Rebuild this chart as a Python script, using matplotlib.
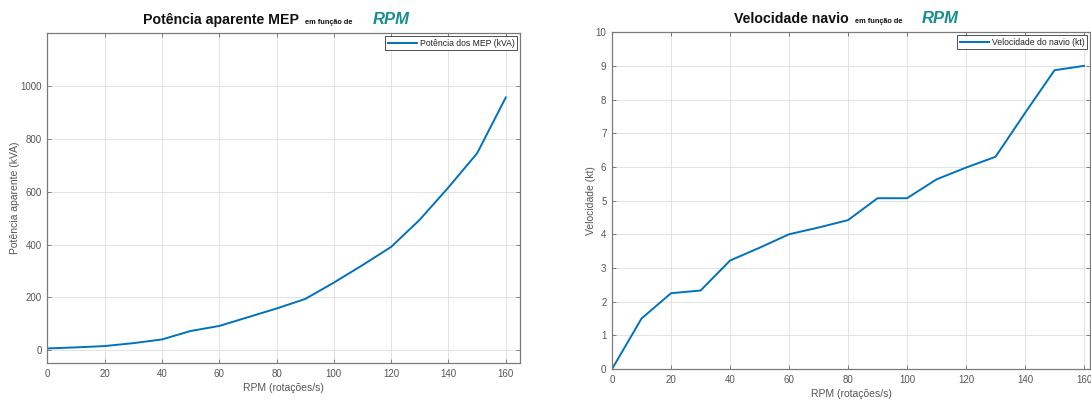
import matplotlib
matplotlib.use("Agg")
import matplotlib.pyplot as plt
from matplotlib.offsetbox import TextArea, HPacker, AnchoredOffsetbox

plt.rcParams["font.family"] = ["Liberation Sans", "DejaVu Sans"]

# ── Data ──
rpm = [0, 10, 20, 30, 40, 50, 60, 70, 80, 90, 100, 110, 120, 130, 140, 150, 160]
potencia_kva = [7, 11, 16, 27, 41, 73, 92, 125, 158, 194, 256, 322, 391, 494, 616, 745, 956]
velocidade_kt = [0, 1.5, 2.25, 2.33, 3.22, 3.6, 4.0, 4.2, 4.42, 5.07, 5.07, 5.63, 5.98, 6.3, 7.6, 8.87, 9.0]

pot_yticks = [0, 200, 400, 600, 800, 1000]
vel_yticks = list(range(0, 11))
x_ticks = list(range(0, 161, 20))

LINE_C = "#0072BD"
TICK_C = "#555555"
EDGE_C = "#7a7a7a"
GRID_C = "#e3e3e3"
TEAL = "#178f8f"


def style_axes(ax):
    for s in ax.spines.values():
        s.set_color(EDGE_C)
        s.set_linewidth(0.9)
    ax.tick_params(direction="in", length=3, width=0.7, colors=EDGE_C,
                   labelcolor=TICK_C, labelsize=7, top=True, right=True, pad=4)
    ax.grid(True, color=GRID_C, linewidth=0.7)
    ax.set_axisbelow(True)


def fancy_title(ax, main, xpos):
    t1 = TextArea(main, textprops=dict(fontsize=10.2, fontweight="bold", color="#111111"))
    t2 = TextArea("em função de", textprops=dict(fontsize=5.3, fontweight="bold", color="#111111"))
    t3 = TextArea("RPM", textprops=dict(fontsize=12, fontweight="bold", style="italic", color=TEAL))
    inner = HPacker(children=[t1, t2], align="baseline", pad=0, sep=4.5)
    box = HPacker(children=[inner, t3], align="baseline", pad=0, sep=14)
    ab = AnchoredOffsetbox(loc="lower center", child=box, pad=0, borderpad=0,
                           bbox_to_anchor=(xpos, 1.018), bbox_transform=ax.transAxes,
                           frameon=False)
    ax.add_artist(ab)


fig = plt.figure(figsize=(10.91, 4.01), dpi=100)
ax1 = fig.add_axes([0.0434, 0.0948, 0.4333, 0.823])
ax2 = fig.add_axes([0.561, 0.0798, 0.438, 0.840])

# Left: apparent power
ax1.plot(rpm, potencia_kva, color=LINE_C, linewidth=1.4, label="Potência dos MEP (kVA)")
ax1.set_xlim(0, 165)
ax1.set_ylim(-48, 1200)
ax1.set_xticks(x_ticks)
ax1.set_yticks(pot_yticks)
style_axes(ax1)
ax1.set_xlabel("RPM (rotações/s)", fontsize=7.5, color=TICK_C, labelpad=3)
ax1.set_ylabel("Potência aparente (kVA)", fontsize=7.5, color=TICK_C, labelpad=0)
fancy_title(ax1, "Potência aparente MEP", 0.484)

# Right: ship speed
ax2.plot(rpm, velocidade_kt, color=LINE_C, linewidth=1.4, label="Velocidade do navio (kt)")
ax2.set_xlim(0, 162)
ax2.set_ylim(0, 10)
ax2.set_xticks(x_ticks)
ax2.set_yticks(vel_yticks)
style_axes(ax2)
ax2.set_xlabel("RPM (rotações/s)", fontsize=7.5, color=TICK_C, labelpad=3)
ax2.set_ylabel("Velocidade (kt)", fontsize=7.5, color=TICK_C, labelpad=0)
fancy_title(ax2, "Velocidade navio", 0.49)

for ax in (ax1, ax2):
    leg = ax.legend(loc="upper right", fontsize=6.2, fancybox=False, framealpha=1,
                    edgecolor="#333333", borderaxespad=0.35, borderpad=0.3,
                    handlelength=3.4, handletextpad=0.3)
    leg.get_frame().set_linewidth(0.6)
    for txt in leg.get_texts():
        txt.set_color("#222222")

fig.savefig("out.png", dpi=100)
